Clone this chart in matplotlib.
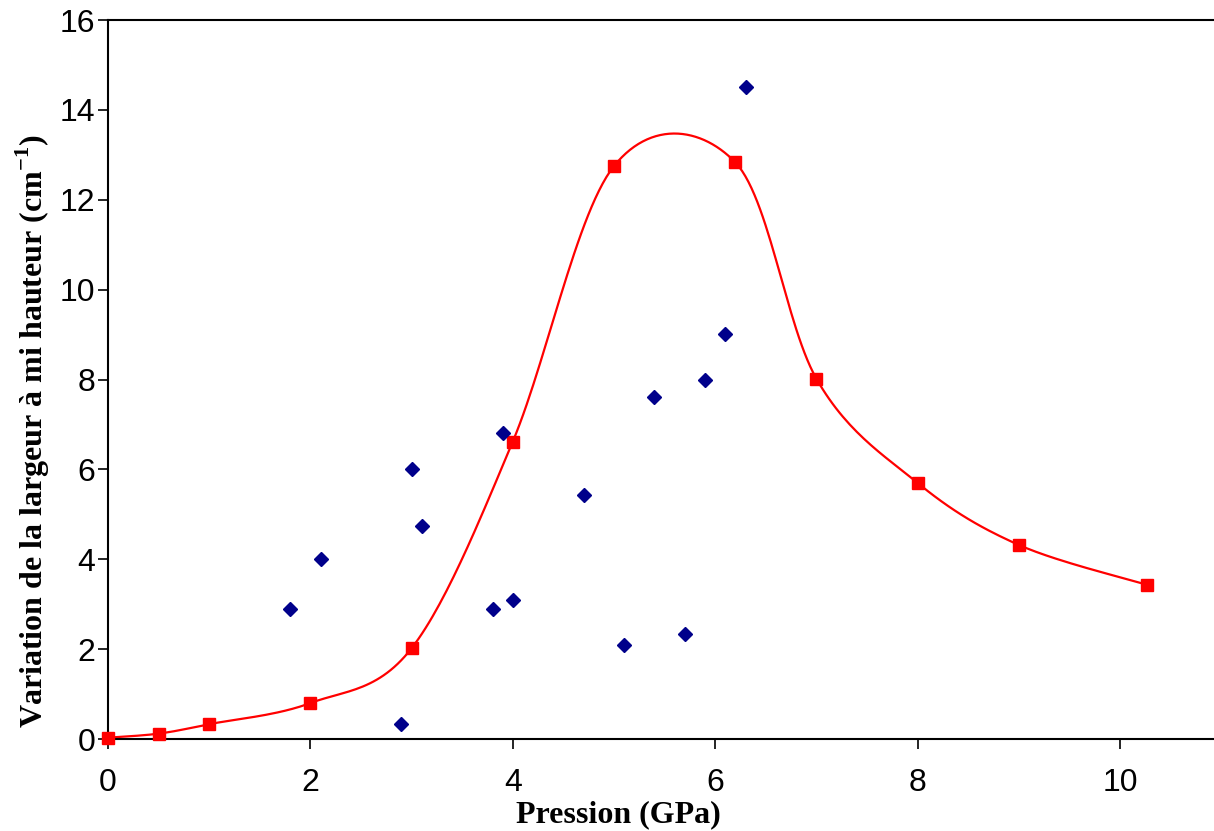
import numpy as np
import matplotlib
matplotlib.use("Agg")
import matplotlib.pyplot as plt

# measured points (red squares, smoothed curve)
p_fit = [0, 0.5, 1, 2, 3, 4, 5, 6.2, 7, 8, 9, 10.27]
w_fit = [0.03, 0.12, 0.33, 0.8, 2.02, 6.62, 12.75, 12.83, 8.02, 5.7, 4.32, 3.43]

# scattered points (blue diamonds)
p_pts = [1.8, 2.1, 2.9, 3.0, 3.1, 3.8, 3.9, 4.0, 4.7, 5.1, 5.4, 5.7, 5.9, 6.1, 6.3]
w_pts = [2.9, 4.0, 0.33, 6.0, 4.73, 2.9, 6.82, 3.1, 5.43, 2.1, 7.62, 2.33, 8.0, 9.02, 14.52]


def smooth(x, y, n=30):
    # Catmull-Rom style bezier, like spreadsheet smoothed lines
    x = np.asarray(x, float)
    y = np.asarray(y, float)
    xs, ys = [], []
    for i in range(len(x) - 1):
        i0 = max(i - 1, 0)
        i3 = min(i + 2, len(x) - 1)
        c1x = x[i] + (x[i + 1] - x[i0]) / 6
        c1y = y[i] + (y[i + 1] - y[i0]) / 6
        c2x = x[i + 1] - (x[i3] - x[i]) / 6
        c2y = y[i + 1] - (y[i3] - y[i]) / 6
        t = np.linspace(0, 1, n)
        xs.append((1-t)**3*x[i] + 3*(1-t)**2*t*c1x + 3*(1-t)*t**2*c2x + t**3*x[i+1])
        ys.append((1-t)**3*y[i] + 3*(1-t)**2*t*c1y + 3*(1-t)*t**2*c2y + t**3*y[i+1])
    return np.concatenate(xs), np.concatenate(ys)


fig = plt.figure(figsize=(12.14, 8.31), dpi=100)
ax = fig.add_axes([0.089, 0.1107, 0.911, 0.8652])

sx, sy = smooth(p_fit, w_fit)
ax.plot(sx, sy, color="red", lw=1.6, zorder=2)
ax.plot(p_fit, w_fit, "s", color="red", ms=9, zorder=3, clip_on=False)
ax.plot(p_pts, w_pts, "D", color="#00008B", ms=7, zorder=3, clip_on=False)

ax.set_xlim(0, 10.93)
ax.set_ylim(0, 16)
ax.set_xticks(range(0, 11, 2))
ax.set_yticks(range(0, 17, 2))
ax.spines["right"].set_visible(False)
for s in ["left", "bottom", "top"]:
    ax.spines[s].set_linewidth(1.5)
ax.tick_params(direction="out", length=7, width=1.2, labelsize=23)
ax.tick_params(axis="x", pad=14)
ax.tick_params(axis="y", pad=2)
for lab in ax.get_xticklabels() + ax.get_yticklabels():
    lab.set_family("Liberation Sans")

ax.set_xlabel("Pression (GPa)", family="Liberation Serif", fontweight="bold",
              fontsize=23)
ax.set_ylabel("Variation de la largeur à mi hauteur (cm$^{\\mathregular{-1}}$)",
              family="Liberation Serif", fontweight="bold", fontsize=23)
ax.xaxis.set_label_coords(0.461, -0.085)
ax.yaxis.set_label_coords(-0.051, 0.428)

fig.savefig("out.png", dpi=100)
